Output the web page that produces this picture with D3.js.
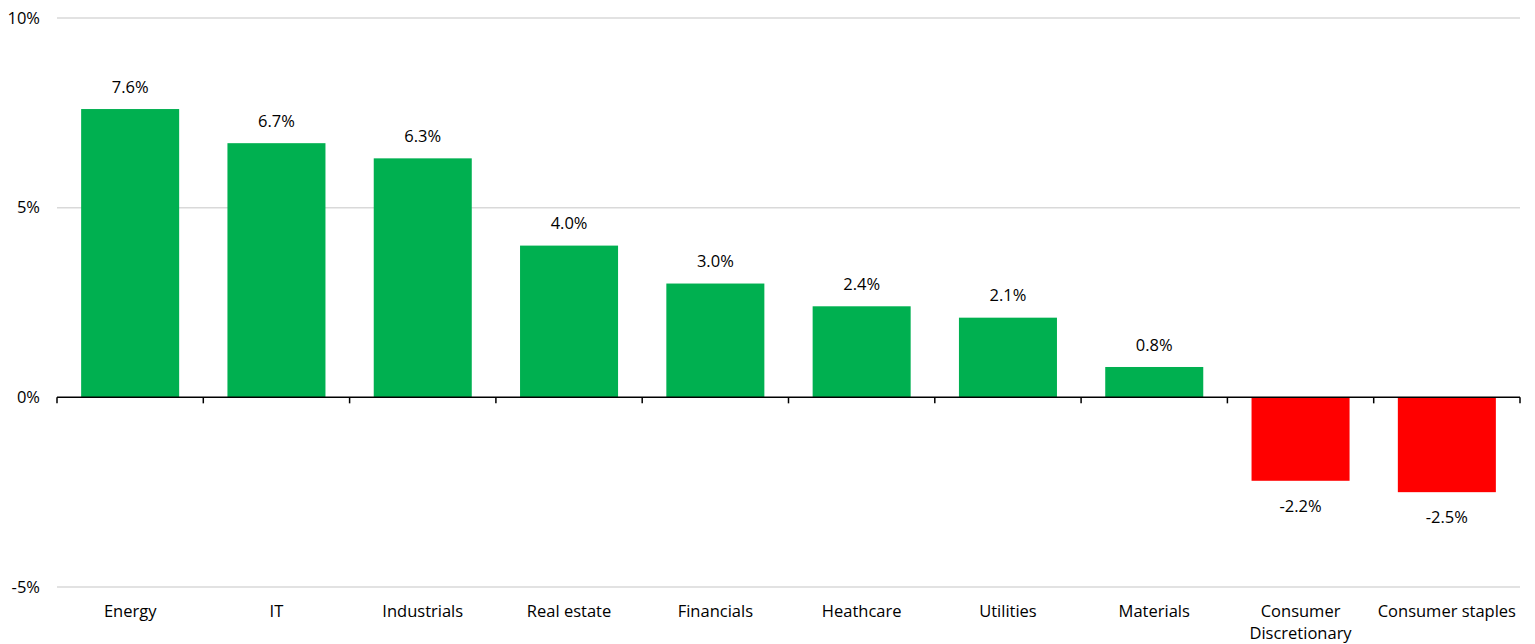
<!DOCTYPE html>
<html><head><meta charset="utf-8">
<script src="https://cdn.jsdelivr.net/npm/d3@7"></script>
<style>body{margin:0;background:#fff}svg{display:block}text{font-family:"Open Sans","Noto Sans",sans-serif;fill:#000}</style>
</head><body><svg id="c" width="1535" height="644"></svg>
<script>
const categories = ["Energy","IT","Industrials","Real estate","Financials","Heathcare","Utilities","Materials","Consumer Discretionary","Consumer staples"];
const values = [7.6, 6.7, 6.3, 4.0, 3.0, 2.4, 2.1, 0.8, -2.2, -2.5];
const yTicks = [-5, 0, 5, 10];
const categoryLines = [["Energy"],["IT"],["Industrials"],["Real estate"],["Financials"],["Heathcare"],["Utilities"],["Materials"],["Consumer","Discretionary"],["Consumer staples"]];

(function(){
const svg = d3.select("#c");
const mLeft = 57, mRight = 1520, mTop = 18, mBottom = 587;
const fs = "16.5px";
const x = d3.scaleBand().domain(categories).range([mLeft, mRight]).paddingInner(0.33).paddingOuter(0.165);
const y = d3.scaleLinear().domain([-5, 10]).range([mBottom, mTop]);

svg.append("g").selectAll("line").data(yTicks.filter(d => d !== 0)).join("line")
  .attr("x1", mLeft).attr("x2", mRight).attr("y1", d => y(d)).attr("y2", d => y(d))
  .attr("stroke", "#d9d9d9").attr("stroke-width", 1.5);

svg.append("g").selectAll("text").data(yTicks).join("text")
  .attr("x", 40).attr("y", d => y(d)).attr("dy", "0.35em").attr("text-anchor", "end")
  .style("font-size", fs).text(d => d + "%");

const green = "#00b050", red = "#ff0000";
svg.append("g").selectAll("rect").data(values).join("rect")
  .attr("x", (d, i) => x(categories[i])).attr("width", x.bandwidth())
  .attr("y", d => y(Math.max(0, d))).attr("height", d => Math.abs(y(d) - y(0)))
  .attr("fill", d => d >= 0 ? green : red);

svg.append("g").selectAll("text").data(values).join("text")
  .attr("x", (d, i) => x(categories[i]) + x.bandwidth() / 2)
  .attr("y", d => d >= 0 ? y(d) - 22 : y(d) + 25).attr("dy", "0.35em")
  .attr("text-anchor", "middle").style("font-size", fs)
  .text(d => d.toFixed(1) + "%");

svg.append("line").attr("x1", mLeft).attr("x2", mRight).attr("y1", y(0)).attr("y2", y(0))
  .attr("stroke", "#000").attr("stroke-width", 1.5);
const bounds = d3.range(categories.length + 1).map(i => mLeft + i * (mRight - mLeft) / categories.length);
svg.append("g").selectAll("line").data(bounds).join("line")
  .attr("x1", d => d).attr("x2", d => d).attr("y1", y(0)).attr("y2", y(0) + 6)
  .attr("stroke", "#000").attr("stroke-width", 1.5);

const cl = svg.append("g").selectAll("text").data(categories).join("text")
  .attr("x", d => x(d) + x.bandwidth() / 2).attr("y", 611)
  .attr("text-anchor", "middle").style("font-size", fs);
cl.selectAll("tspan").data((d, i) => categoryLines[i]).join("tspan")
  .attr("x", function() { return this.parentNode.getAttribute("x"); })
  .attr("dy", (d, j) => j === 0 ? "0.35em" : "1.35em").text(d => d);
})();
</script></body></html>
